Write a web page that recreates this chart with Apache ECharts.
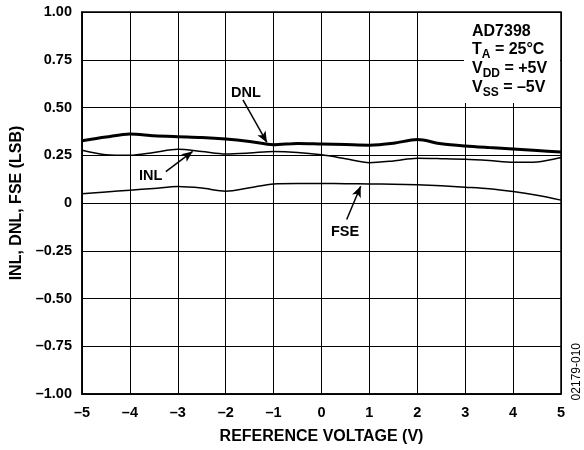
<!DOCTYPE html>
<html>
<head>
<meta charset="utf-8">
<script src="https://cdn.jsdelivr.net/npm/echarts@6/dist/echarts.min.js"></script>
<style>
  html, body { margin: 0; padding: 0; background: #fff; }
  #chart { width: 584px; height: 450px; }
</style>
</head>
<body>
<div id="chart"></div>
<script>
// reference voltage (V)
var voltage = [-5, -4.5, -4, -3.5, -3, -2.5, -2, -1.5, -1, -0.5, 0, 0.5, 1, 1.5, 2, 2.5, 3, 3.5, 4, 4.5, 5];
var dnl = [0.326, 0.345, 0.361, 0.352, 0.347, 0.343, 0.335, 0.322, 0.305, 0.312, 0.309, 0.306, 0.303, 0.313, 0.332, 0.31, 0.298, 0.29, 0.283, 0.275, 0.267];
var inl = [0.276, 0.253, 0.25, 0.265, 0.281, 0.27, 0.257, 0.262, 0.27, 0.265, 0.252, 0.232, 0.211, 0.22, 0.234, 0.232, 0.229, 0.222, 0.213, 0.215, 0.238];
var fse = [0.048, 0.058, 0.067, 0.076, 0.086, 0.078, 0.062, 0.08, 0.1, 0.102, 0.102, 0.101, 0.1, 0.098, 0.095, 0.09, 0.083, 0.075, 0.06, 0.04, 0.015];

// arrows: [from, to] in data units
var dnlArrow = [[-1.64, 0.54], [-1.14, 0.317]];
var inlArrow = [[-3.25, 0.164], [-2.69, 0.27]];
var fseArrow = [[0.526, -0.086], [0.818, 0.088]];

var FONT = '"Liberation Sans", Arial, sans-serif';

function pairs(xs, ys) {
    var out = [];
    for (var i = 0; i < xs.length; i++) out.push([xs[i], ys[i]]);
    return out;
}

function arrow(a) {
    return {
        silent: true,
        symbolSize: [7, 11],
        lineStyle: { color: '#000', width: 1.5, type: 'solid' },
        label: { show: false },
        data: [[{ coord: a[0], symbol: 'none' }, { coord: a[1], symbol: 'arrow' }]]
    };
}

function dash(v) {
    return String(v).replace('-', '\u2013');
}

var myChart = echarts.init(document.getElementById('chart'));

var option = {
    animation: false,
    backgroundColor: '#fff',
    grid: { left: 82, right: 23, top: 12, bottom: 55, show: true, borderColor: '#000', borderWidth: 1.5 },
    xAxis: {
        type: 'value',
        min: -5, max: 5, interval: 1,
        name: 'REFERENCE VOLTAGE (V)',
        nameLocation: 'middle',
        nameGap: 35,
        nameTextStyle: { fontFamily: FONT, fontWeight: 'bold', fontSize: 16, color: '#000' },
        axisLine: { onZero: false, lineStyle: { color: '#000', width: 1.5 } },
        axisTick: { show: false },
        axisLabel: { margin: 11, fontFamily: FONT, fontWeight: 'bold', fontSize: 14.5, color: '#000',
            formatter: function (v) { return dash(v); } },
        splitLine: { lineStyle: { color: '#000', width: 1 } }
    },
    yAxis: {
        type: 'value',
        min: -1, max: 1, interval: 0.25,
        name: 'INL, DNL, FSE (LSB)',
        nameLocation: 'middle',
        nameGap: 56,
        nameTextStyle: { fontFamily: FONT, fontWeight: 'bold', fontSize: 16, color: '#000' },
        axisLine: { show: true, onZero: false, lineStyle: { color: '#000', width: 1.5 } },
        axisTick: { show: false },
        axisLabel: { margin: 10, fontFamily: FONT, fontWeight: 'bold', fontSize: 14.5, color: '#000',
            formatter: function (v) { return v === 0 ? '0' : dash(v.toFixed(2)); } },
        splitLine: { lineStyle: { color: '#000', width: 1 } }
    },
    graphic: [
        { type: 'rect', left: 464, top: 13, shape: { width: 96, height: 90 }, style: { fill: '#fff' }, z: 1 },
        { type: 'text', left: 472, top: 24, z: 2,
          style: { text: 'AD7398', font: 'bold 16px ' + FONT, fill: '#000' } },
        { type: 'text', left: 472, top: 42, z: 2,
          style: {
            text: '{m|T}{s|A}{m| = 25°C}\n{m|V}{s|DD}{m| = +5V}\n{m|V}{s|SS}{m| = \u20135V}',
            fill: '#000',
            rich: {
                m: { font: 'bold 16px ' + FONT, fill: '#000', lineHeight: 19, verticalAlign: 'top' },
                s: { font: 'bold 12px ' + FONT, fill: '#000', lineHeight: 19, padding: [7, 0, 0, 0], verticalAlign: 'top' }
            }
          } },
        { type: 'text', left: 231, top: 85, z: 2, style: { text: 'DNL', font: 'bold 14.5px ' + FONT, fill: '#000' } },
        { type: 'text', left: 139, top: 168, z: 2, style: { text: 'INL', font: 'bold 14.5px ' + FONT, fill: '#000' } },
        { type: 'text', left: 331, top: 224, z: 2, style: { text: 'FSE', font: 'bold 14.5px ' + FONT, fill: '#000' } },
        { type: 'text', left: 571, top: 343, rotation: Math.PI / 2, z: 2,
          style: { text: '02179-010', font: '12px ' + FONT, fill: '#000' } }
    ],
    series: [
        {
            name: 'DNL', type: 'line', data: pairs(voltage, dnl),
            smooth: 0.3, showSymbol: false,
            lineStyle: { color: '#000', width: 3 },
            markLine: arrow(dnlArrow)
        },
        {
            name: 'INL', type: 'line', data: pairs(voltage, inl),
            smooth: 0.3, showSymbol: false,
            lineStyle: { color: '#000', width: 1.5 },
            markLine: arrow(inlArrow)
        },
        {
            name: 'FSE', type: 'line', data: pairs(voltage, fse),
            smooth: 0.3, showSymbol: false,
            lineStyle: { color: '#000', width: 1.5 },
            markLine: arrow(fseArrow)
        }
    ]
};

myChart.setOption(option);
</script>
</body>
</html>
